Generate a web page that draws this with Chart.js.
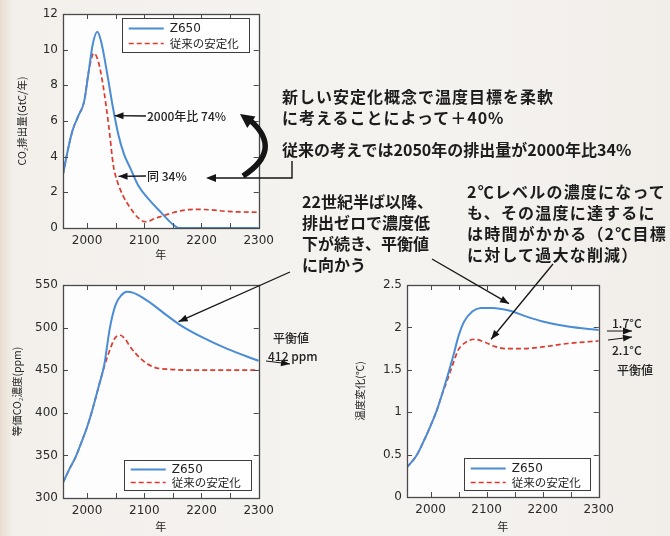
<!DOCTYPE html>
<html>
<head>
<meta charset="utf-8">
<script src="https://cdn.jsdelivr.net/npm/chart.js@4.4.1/dist/chart.umd.min.js"></script>
<style>
  html, body { margin: 0; padding: 0; }
  #wrap {
    position: relative; width: 670px; height: 536px; overflow: hidden;
    background: linear-gradient(90deg, #e8ddd1 0, #f3f0ec 14px, #f5f3f0 60%, #f1eeea 100%);
    font-family: "Noto Sans CJK JP", sans-serif;
  }
  #wrap canvas { position: absolute; }
  .note {
    position: absolute; white-space: nowrap; color: #1c1c1c;
    font-weight: 700; font-size: 16px; line-height: 21px;
  }
  .small { position: absolute; white-space: nowrap; color: #222; font-size: 12px; line-height: 14px; font-weight: 500; }
</style>
</head>
<body>
<div id="wrap">
  <canvas id="emis" width="280" height="262" style="left:0;top:0"></canvas>
  <canvas id="conc" width="280" height="264" style="left:0;top:270px"></canvas>
  <canvas id="temp" width="280" height="264" style="left:340px;top:270px"></canvas>
  <canvas id="overlay" width="670" height="536" style="left:0;top:0"></canvas>

  <div class="small" style="left:147px;top:109px">2000年比 74%</div>
  <div class="small" style="left:147px;top:169px">同 34%</div>
  <div class="small" style="left:273px;top:331px">平衡値</div>
  <div class="small" style="left:268px;top:349px">412 ppm</div>
  <div class="small" style="left:612px;top:316px">1.7°C</div>
  <div class="small" style="left:612px;top:343px">2.1°C</div>
  <div class="small" style="left:617px;top:363px">平衡値</div>

  <div class="note" style="left:282px;top:86px;letter-spacing:1px">新しい安定化概念で温度目標を柔軟<br>に考えることによって＋40%</div>
  <div class="note" style="left:282px;top:139px">従来の考えでは2050年の排出量が2000年比34%</div>
  <div class="note" style="left:302px;top:191px">22世紀半ば以降、<br>排出ゼロで濃度低<br>下が続き、平衡値<br>に向かう</div>
  <div class="note" style="left:467px;top:181px;letter-spacing:1.2px">2℃レベルの濃度になって<br>も、その温度に達するに<br>は時間がかかる（2℃目標<br>に対して過大な削減）</div>
</div>
<script>
// ---- data ----
const yearTicks = [2000, 2050, 2100, 2150, 2200, 2250, 2300];

// CO2 emissions, GtC/yr
const emisYearsZ650 = [1958, 1968, 1975, 1985, 1995, 2003, 2010, 2018, 2025, 2035, 2045, 2055, 2065, 2075, 2090, 2108, 2130, 2150, 2160, 2300];
const emisZ650      = [3.0, 4.6, 5.5, 6.3, 7.1, 8.8, 10.3, 11.0, 10.4, 8.7, 6.8, 5.2, 4.1, 3.4, 2.35, 1.6, 0.85, 0.2, 0, 0];
const emisYearsStab = [1958, 1968, 1975, 1985, 1995, 2003, 2012, 2020, 2028, 2038, 2046, 2052, 2063, 2074, 2090, 2102, 2120, 2142, 2165, 2187, 2215, 2245, 2300];
const emisStab      = [3.0, 4.6, 5.5, 6.3, 7.1, 8.8, 9.8, 9.3, 8.0, 5.7, 3.5, 2.7, 1.8, 1.2, 0.55, 0.35, 0.55, 0.78, 0.97, 1.05, 1.02, 0.93, 0.88];

// equivalent CO2 concentration, ppm
const concYearsZ650 = [1958, 1970, 1980, 1990, 2000, 2010, 2020, 2030, 2040, 2050, 2060, 2070, 2080, 2095, 2115, 2140, 2165, 2200, 2245, 2300];
const concZ650      = [318, 335, 348, 365, 383, 405, 430, 456, 500, 527, 538, 542, 541, 536, 527, 514, 502, 489, 475, 461];
const concYearsStab = [1958, 1970, 1980, 1990, 2000, 2010, 2020, 2030, 2040, 2048, 2058, 2066, 2076, 2093, 2115, 2145, 2200, 2300];
const concStab      = [318, 335, 348, 365, 383, 405, 430, 454, 474, 487, 491, 487, 477, 464, 454, 451, 450, 450];

// temperature change, degC
const tempYearsZ650 = [1958, 1975, 1990, 2000, 2010, 2020, 2030, 2040, 2050, 2060, 2075, 2090, 2110, 2140, 2170, 2200, 2245, 2300];
const tempZ650      = [0.35, 0.49, 0.69, 0.84, 1.0, 1.2, 1.42, 1.65, 1.9, 2.07, 2.19, 2.23, 2.23, 2.2, 2.13, 2.07, 2.01, 1.97];
const tempYearsStab = [1958, 1975, 1990, 2000, 2010, 2020, 2030, 2040, 2050, 2062, 2078, 2095, 2112, 2135, 2165, 2200, 2245, 2300];
const tempStab      = [0.35, 0.49, 0.69, 0.84, 1.0, 1.2, 1.38, 1.57, 1.74, 1.82, 1.86, 1.83, 1.78, 1.75, 1.75, 1.77, 1.81, 1.84];

const seriesNames = ['Z650', '従来の安定化'];

// ---- styles ----
const BLUE = '#4a8cd6';
const RED = '#dc3a2d';
const tickFont = { family: 'DejaVu Sans', size: 12 };
const cjk = 'Noto Sans CJK JP';

const pts = (xs, ys) => xs.map((x, i) => ({ x: x, y: ys[i] }));

// white plot area
const plotBg = {
  id: 'plotBg',
  beforeDatasetsDraw(chart) {
    const a = chart.chartArea, ctx = chart.ctx;
    ctx.save();
    ctx.fillStyle = '#fdfdfd';
    ctx.fillRect(a.left, a.top, a.right - a.left, a.bottom - a.top);
    ctx.restore();
  }
};

// box frame with inward tick marks on all four sides
const frameTicks = {
  id: 'frameTicks',
  afterDatasetsDraw(chart) {
    const { ctx, chartArea: a, scales: { x, y } } = chart;
    const L = 5;
    ctx.save();
    ctx.strokeStyle = '#4a4a4a';
    ctx.lineWidth = 1;
    ctx.beginPath();
    x.ticks.forEach(t => {
      const px = Math.round(x.getPixelForValue(t.value)) + 0.5;
      ctx.moveTo(px, a.bottom); ctx.lineTo(px, a.bottom - L);
      ctx.moveTo(px, a.top); ctx.lineTo(px, a.top + L);
    });
    y.ticks.forEach(t => {
      const py = Math.round(y.getPixelForValue(t.value)) + 0.5;
      ctx.moveTo(a.left, py); ctx.lineTo(a.left + L, py);
      ctx.moveTo(a.right, py); ctx.lineTo(a.right - L, py);
    });
    ctx.stroke();
    ctx.lineWidth = 1.3;
    ctx.strokeRect(Math.round(a.left) + 0.5, Math.round(a.top) + 0.5,
      Math.round(a.right - a.left), Math.round(a.bottom - a.top));
    ctx.restore();
  }
};

// legend drawn as a framed box inside the plot area
const boxLegend = {
  id: 'boxLegend',
  afterDatasetsDraw(chart, args, o) {
    const { ctx, chartArea: a } = chart;
    const x = a.right - o.right - o.width;
    const y = o.top != null ? a.top + o.top : a.bottom - o.bottom - o.height;
    ctx.save();
    ctx.fillStyle = '#ffffff';
    ctx.fillRect(x, y, o.width, o.height);
    ctx.strokeStyle = '#3c3c3c';
    ctx.lineWidth = 1;
    ctx.strokeRect(Math.round(x) + 0.5, Math.round(y) + 0.5, o.width, o.height);
    chart.data.datasets.forEach((ds, i) => {
      const cy = Math.round(y + o.height * (i === 0 ? 0.3 : 0.74)) + 0.5;
      ctx.beginPath();
      ctx.strokeStyle = ds.borderColor;
      ctx.lineWidth = ds.borderWidth;
      ctx.setLineDash(ds.borderDash || []);
      ctx.moveTo(x + 7, cy); ctx.lineTo(x + 42, cy);
      ctx.stroke();
      ctx.setLineDash([]);
      ctx.fillStyle = '#222';
      ctx.textBaseline = 'middle';
      ctx.font = i === 0 ? '12px "DejaVu Sans"' : '11.5px "' + cjk + '"';
      ctx.fillText(ds.label, x + 48, cy);
    });
    ctx.restore();
  }
};

function makeChart(id, z, s, yMin, yMax, yStep, yTitle, lay, legendPos) {
  return new Chart(document.getElementById(id), {
    type: 'line',
    data: {
      datasets: [
        { label: seriesNames[0], data: z, borderColor: BLUE, borderWidth: 2, pointRadius: 0, cubicInterpolationMode: 'monotone' },
        { label: seriesNames[1], data: s, borderColor: RED, borderWidth: 1.7, borderDash: [5, 3], pointRadius: 0, cubicInterpolationMode: 'monotone' }
      ]
    },
    options: {
      responsive: false,
      animation: false,
      layout: { padding: { top: lay.top, right: lay.right, left: 0, bottom: 0 } },
      plugins: { legend: { display: false }, tooltip: { enabled: false }, boxLegend: legendPos },
      scales: {
        x: {
          type: 'linear', min: 1958, max: 2300,
          afterBuildTicks: sc => { sc.ticks = yearTicks.map(v => ({ value: v })); },
          afterFit: sc => { sc.height = lay.xh; },
          grid: { display: false, drawTicks: false },
          border: { display: false },
          ticks: { callback: v => (v % 100 === 0 ? String(v) : ''), padding: 6, font: tickFont, color: '#2a2a2a', maxRotation: 0, autoSkip: false },
          title: { display: true, text: '年', font: { family: cjk, size: 11 }, color: '#222', padding: { top: 0, bottom: 1 } }
        },
        y: {
          min: yMin, max: yMax,
          afterFit: sc => { sc.width = lay.yw; },
          grid: { display: false, drawTicks: false },
          border: { display: false },
          ticks: { stepSize: yStep, padding: 5, font: tickFont, color: '#2a2a2a', callback: v => String(Number(v.toFixed(1))) },
          title: { display: true, text: yTitle, font: { family: cjk, size: 10.5 }, color: '#222', padding: { top: lay.tpad, bottom: 0 } }
        }
      }
    },
    plugins: [plotBg, frameTicks, boxLegend]
  });
}

const emisChart = makeChart('emis', pts(emisYearsZ650, emisZ650), pts(emisYearsStab, emisStab),
  0, 12, 2, 'CO₂排出量(GtC/年)', { top: 14, right: 13, xh: 34, yw: 63, tpad: 16 },
  { width: 127, height: 34, right: 10, top: 4 });
const concChart = makeChart('conc', pts(concYearsZ650, concZ650), pts(concYearsStab, concStab),
  300, 550, 50, '等価CO₂濃度(ppm)', { top: 15, right: 15, xh: 36, yw: 63, tpad: 11 },
  { width: 127, height: 30, right: 8, bottom: 8 });
const tempChart = makeChart('temp', pts(tempYearsZ650, tempZ650), pts(tempYearsStab, tempStab),
  0, 2.5, 0.5, '温度変化(℃)', { top: 15, right: 13, xh: 37, yw: 67, tpad: 14 },
  { width: 126, height: 32, right: 9, bottom: 7 });

// ---- annotation arrows over all three panels ----
const ov = document.getElementById('overlay').getContext('2d');
function at(chart, ox, oy, xv, yv) {
  return [ox + chart.scales.x.getPixelForValue(xv), oy + chart.scales.y.getPixelForValue(yv)];
}
function head(x1, y1, x2, y2, len, half) {
  const ang = Math.atan2(y2 - y1, x2 - x1);
  ov.beginPath();
  ov.moveTo(x2, y2);
  ov.lineTo(x2 - len * Math.cos(ang) + half * Math.sin(ang), y2 - len * Math.sin(ang) - half * Math.cos(ang));
  ov.lineTo(x2 - len * Math.cos(ang) - half * Math.sin(ang), y2 - len * Math.sin(ang) + half * Math.cos(ang));
  ov.closePath();
  ov.fill();
}
function arrow(from, to, w) {
  ov.beginPath();
  ov.lineWidth = w || 1.3;
  ov.moveTo(from[0], from[1]);
  ov.lineTo(to[0], to[1]);
  ov.stroke();
  head(from[0], from[1], to[0], to[1], 9, 3.5);
}
ov.strokeStyle = '#151515';
ov.fillStyle = '#151515';

arrow([146, 116], at(emisChart, 0, 0, 2048, 6.3));
arrow([146, 176], at(emisChart, 0, 0, 2055, 2.9));

// bracket from the lower heading down to the 34% marker
ov.beginPath();
ov.lineWidth = 1.4;
ov.moveTo(292, 161); ov.lineTo(292, 178); ov.lineTo(214, 178);
ov.stroke();
head(292, 178, 206, 178, 10, 4);

// thick curved arrow from 34% up to 74%
ov.beginPath();
ov.lineWidth = 5.5;
ov.lineCap = 'butt';
ov.moveTo(243, 176);
ov.quadraticCurveTo(283, 150, 251, 121);
ov.stroke();
head(262, 130, 240, 114, 14, 7);

arrow([290, 272], at(concChart, 0, 270, 2160, 507));
arrow([432, 259], at(tempChart, 340, 270, 2140, 2.28));
arrow([553, 264], at(tempChart, 340, 270, 2108, 1.86));

// equilibrium pointers at the right edges
arrow([266, 361], [290, 364], 1);
arrow([607, 331], [632, 331], 1);
arrow([608, 340], [632, 337], 1);
</script>
</body>
</html>
